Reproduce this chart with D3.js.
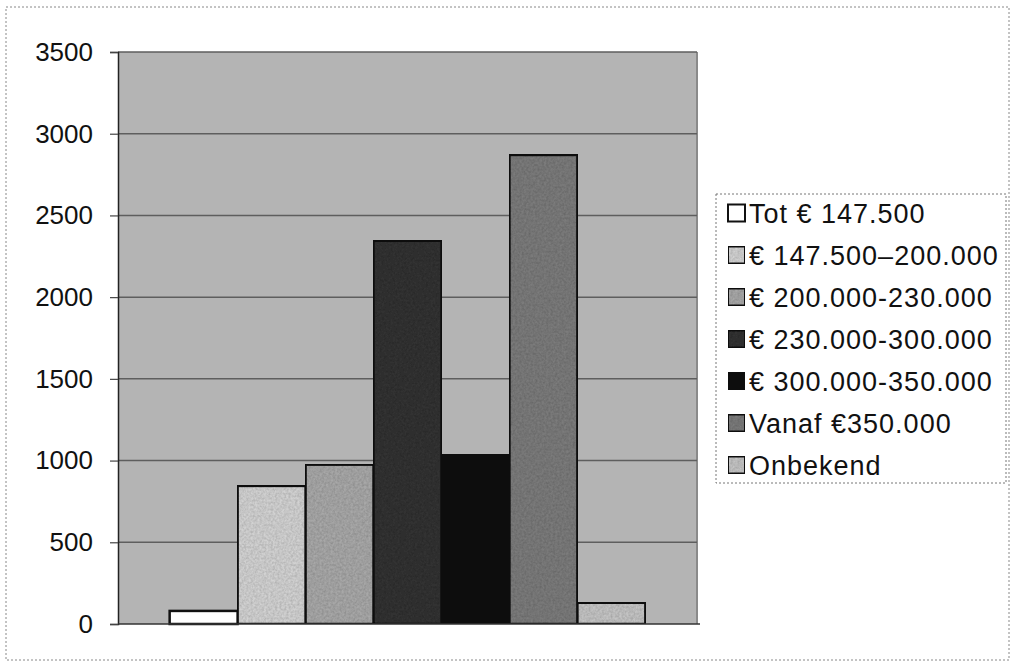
<!DOCTYPE html>
<html>
<head>
<meta charset="utf-8">
<script src="https://cdn.jsdelivr.net/npm/d3@7"></script>
<style>
  html, body { margin: 0; padding: 0; background: #fff; }
  svg { display: block; font-family: "Liberation Sans", Arial, sans-serif; }
</style>
</head>
<body>
<svg id="chart" width="1014" height="667"></svg>
<script>
// Price classes (one bar each) and counts
const categories = [
  "Tot € 147.500",
  "€ 147.500–200.000",
  "€ 200.000-230.000",
  "€ 230.000-300.000",
  "€ 300.000-350.000",
  "Vanaf €350.000",
  "Onbekend"
];
const values = [80, 845, 975, 2345, 1040, 2870, 130];
const barColors = ["#ffffff", "#d2d2d2", "#a8a8a8", "#323232", "#0e0e0e", "#7b7b7b", "#c4c4c4"];
const yTicks = [0, 500, 1000, 1500, 2000, 2500, 3000, 3500];

const svg = d3.select("#chart");
const plot = { left: 118, right: 697, top: 52, bottom: 624 };

// Speckle texture used on the shaded bars
const defs = svg.append("defs");
const noise = defs.append("filter").attr("id", "grain").attr("x", 0).attr("y", 0).attr("width", 1).attr("height", 1);
noise.append("feTurbulence").attr("type", "fractalNoise").attr("baseFrequency", 0.45).attr("numOctaves", 2).attr("result", "n");
noise.append("feColorMatrix").attr("in", "n").attr("type", "matrix")
  .attr("values", "0 0 0 0 0  0 0 0 0 0  0 0 0 0 0  0 0 0 0.5 -0.12").attr("result", "a");
noise.append("feComposite").attr("in", "a").attr("in2", "SourceGraphic").attr("operator", "atop");

// Outer dotted frame
svg.append("rect")
  .attr("x", 6).attr("y", 7).attr("width", 1003).attr("height", 653)
  .attr("fill", "none").attr("stroke", "#888").attr("stroke-width", 1)
  .attr("stroke-dasharray", "2,2");

const y = d3.scaleLinear().domain([0, 3500]).range([plot.bottom, plot.top]);

// Bars sit centred in the plot with a gap on either side
const x = d3.scaleBand()
  .domain(categories)
  .range([plot.left, plot.right])
  .paddingInner(0)
  .paddingOuter(0.76);

// Plot background
svg.append("rect")
  .attr("x", plot.left).attr("y", plot.top)
  .attr("width", plot.right - plot.left).attr("height", plot.bottom - plot.top)
  .attr("fill", "#b4b4b4");
svg.append("line")
  .attr("x1", plot.right).attr("x2", plot.right)
  .attr("y1", plot.top).attr("y2", plot.bottom)
  .attr("stroke", "#8a8a8a").attr("stroke-width", 2);

// Gridlines
svg.append("g")
  .selectAll("line")
  .data(yTicks.filter(d => d > 0))
  .join("line")
  .attr("x1", plot.left).attr("x2", plot.right)
  .attr("y1", d => y(d)).attr("y2", d => y(d))
  .attr("stroke", "#5e5e5e").attr("stroke-width", 1.5);

// Y axis
const yAxis = d3.axisLeft(y).tickValues(yTicks).tickSize(8).tickPadding(17).tickFormat(d3.format("d"));
const gy = svg.append("g").attr("transform", `translate(${plot.left},0)`).call(yAxis);
gy.select(".domain").attr("stroke", "#222").attr("stroke-width", 1.5);
gy.selectAll(".tick line").attr("stroke", "#444").attr("stroke-width", 1.2);
gy.selectAll(".tick text")
  .attr("font-size", 26).attr("fill", "#111")
  .attr("font-family", "'Liberation Sans', Arial, sans-serif");

// Bars
svg.append("g")
  .selectAll("rect")
  .data(categories)
  .join("rect")
  .attr("x", d => x(d))
  .attr("y", (d, i) => y(values[i]))
  .attr("width", x.bandwidth())
  .attr("height", (d, i) => y(0) - y(values[i]))
  .attr("fill", (d, i) => barColors[i])
  .attr("filter", (d, i) => (i === 0 ? null : "url(#grain)"))
  .attr("stroke", "#111").attr("stroke-width", 2.5);

// Baseline
svg.append("line")
  .attr("x1", plot.left).attr("x2", plot.right + 3)
  .attr("y1", plot.bottom).attr("y2", plot.bottom)
  .attr("stroke", "#333").attr("stroke-width", 1.5);

// Legend
const legend = { x: 716, y: 194, w: 290, h: 289, row0: 213, step: 42 };
svg.append("rect")
  .attr("x", legend.x).attr("y", legend.y).attr("width", legend.w).attr("height", legend.h)
  .attr("fill", "#fff").attr("stroke", "#777").attr("stroke-width", 1)
  .attr("stroke-dasharray", "2,2");

const items = svg.append("g").selectAll("g")
  .data(categories)
  .join("g")
  .attr("transform", (d, i) => `translate(0,${legend.row0 + i * legend.step})`);
items.append("rect")
  .attr("x", 728).attr("y", -8.5).attr("width", 17).attr("height", 17)
  .attr("fill", (d, i) => barColors[i])
  .attr("filter", (d, i) => (i === 0 ? null : "url(#grain)"))
  .attr("stroke", "#111").attr("stroke-width", 2);
items.append("text")
  .attr("x", 749).attr("y", 0).attr("dy", "0.36em")
  .attr("font-size", 27).attr("letter-spacing", 1).attr("fill", "#111")
  .text(d => d);
</script>
</body>
</html>
